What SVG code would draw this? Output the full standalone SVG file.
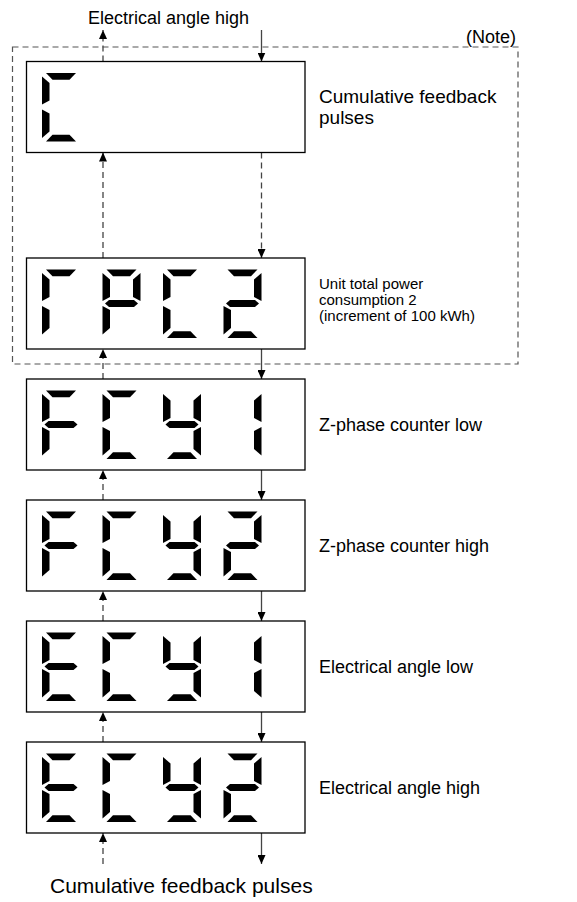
<svg xmlns="http://www.w3.org/2000/svg" width="577" height="902" viewBox="0 0 577 902">
<style>
.box{fill:#fff;stroke:#000;stroke-width:1.3}
.seg{fill:#000}
.lbl{font-family:"Liberation Sans",Arial,sans-serif;font-size:18px;fill:#000}
.big{font-size:19px}
.sm{font-family:"Liberation Sans",Arial,sans-serif;font-size:15px;fill:#000}
.solid{stroke:#444;stroke-width:1.3;fill:none}
.dash{stroke:#444;stroke-width:1.3;fill:none;stroke-dasharray:6 4}
.frame{fill:none;stroke:#555;stroke-width:1.2;stroke-dasharray:6 4}
</style>
<defs>
<marker id="ah" viewBox="0 0 9 8" refX="9" refY="4" markerWidth="9" markerHeight="8" markerUnits="userSpaceOnUse" orient="auto">
<path d="M0,0 L9,4 L0,8 Z" fill="#000"/>
</marker>
<path id="sa" d="M4,0 L34,0 L27.5,6.7 L10.5,6.7 Z"/>
<path id="sf" d="M0,3.5 L7.5,10 L7.5,27.5 L0,31.5 Z"/>
<path id="sb" d="M38,3.5 L30.5,10 L30.5,27.5 L38,31.5 Z"/>
<path id="sg" d="M2.5,34 L6.5,30.5 L31.5,30.5 L35.5,34 L31.5,37.5 L6.5,37.5 Z"/>
<path id="se" d="M0,36.5 L7.5,40.5 L7.5,58.5 L0,65 Z"/>
<path id="sc" d="M38,36.5 L30.5,40.5 L30.5,58.5 L38,65 Z"/>
<path id="sd" d="M10.5,61.8 L27.5,61.8 L34,68.5 L4,68.5 Z"/>
</defs>
<rect width="577" height="902" fill="#fff"/>

<g id="note-frame">
<rect class="frame" x="12.5" y="47" width="505.5" height="317"/>
<text class="lbl" x="516" y="43" text-anchor="end">(Note)</text>
</g>

<g id="connectors">
<path class="solid" d="M261.5,30 V61.5" marker-end="url(#ah)"/>
<path class="dash" d="M103,61.5 V30" marker-end="url(#ah)"/>
<path class="dash" d="M261.5,152.5 V258" marker-end="url(#ah)"/>
<path class="dash" d="M103,258 V152.5" marker-end="url(#ah)"/>
<path class="solid" d="M261.5,349 V379" marker-end="url(#ah)"/>
<path class="dash" d="M103,379 V349" marker-end="url(#ah)"/>
<path class="solid" d="M261.5,470 V500" marker-end="url(#ah)"/>
<path class="dash" d="M103,500 V470" marker-end="url(#ah)"/>
<path class="solid" d="M261.5,591 V621" marker-end="url(#ah)"/>
<path class="dash" d="M103,621 V591" marker-end="url(#ah)"/>
<path class="solid" d="M261.5,712 V742" marker-end="url(#ah)"/>
<path class="dash" d="M103,742 V712" marker-end="url(#ah)"/>
<path class="solid" d="M261.5,833 V864" marker-end="url(#ah)"/>
<path class="dash" d="M103,864 V833" marker-end="url(#ah)"/>
</g>

<g id="top-label"><text class="lbl" x="88" y="24">Electrical angle high</text></g>
<g id="bottom-label"><text class="lbl" x="50" y="893" style="font-size:21px">Cumulative feedback pulses</text></g>

<g id="node-cumulative">
<rect class="box" x="26.5" y="61.5" width="278.5" height="91"/>
<g class="seg" transform="translate(42,73)"><use href="#sa"/><use href="#sf"/><use href="#se"/><use href="#sd"/></g>
<text class="lbl big" x="319" y="103">Cumulative feedback</text>
<text class="lbl big" x="319" y="124">pulses</text>
</g>

<g id="node-rpc2">
<rect class="box" x="26.5" y="258" width="278.5" height="91"/>
<g class="seg" transform="translate(42,269.5)"><use href="#sa"/><use href="#sf"/><use href="#se"/></g>
<g class="seg" transform="translate(102.5,269.5)"><use href="#sa"/><use href="#sf"/><use href="#sb"/><use href="#sg"/><use href="#se"/></g>
<g class="seg" transform="translate(163,269.5)"><use href="#sa"/><use href="#sf"/><use href="#se"/><use href="#sd"/></g>
<g class="seg" transform="translate(223.5,269.5)"><use href="#sa"/><use href="#sb"/><use href="#sg"/><use href="#se"/><use href="#sd"/></g>
<text class="sm" x="319" y="289">Unit total power</text>
<text class="sm" x="319" y="305">consumption 2</text>
<text class="sm" x="319" y="321">(increment of 100 kWh)</text>
</g>

<g id="node-fcy1">
<rect class="box" x="26.5" y="379" width="278.5" height="91"/>
<g class="seg" transform="translate(42,390.5)"><use href="#sa"/><use href="#sf"/><use href="#sg"/><use href="#se"/></g>
<g class="seg" transform="translate(102.5,390.5)"><use href="#sa"/><use href="#sf"/><use href="#se"/><use href="#sd"/></g>
<g class="seg" transform="translate(163,390.5)"><use href="#sf"/><use href="#sb"/><use href="#sg"/><use href="#sc"/><use href="#sd"/></g>
<g class="seg" transform="translate(223.5,390.5)"><use href="#sb"/><use href="#sc"/></g>
<text class="lbl" x="319" y="431">Z-phase counter low</text>
</g>

<g id="node-fcy2">
<rect class="box" x="26.5" y="500" width="278.5" height="91"/>
<g class="seg" transform="translate(42,511.5)"><use href="#sa"/><use href="#sf"/><use href="#sg"/><use href="#se"/></g>
<g class="seg" transform="translate(102.5,511.5)"><use href="#sa"/><use href="#sf"/><use href="#se"/><use href="#sd"/></g>
<g class="seg" transform="translate(163,511.5)"><use href="#sf"/><use href="#sb"/><use href="#sg"/><use href="#sc"/><use href="#sd"/></g>
<g class="seg" transform="translate(223.5,511.5)"><use href="#sa"/><use href="#sb"/><use href="#sg"/><use href="#se"/><use href="#sd"/></g>
<text class="lbl" x="319" y="552">Z-phase counter high</text>
</g>

<g id="node-ecy1">
<rect class="box" x="26.5" y="621" width="278.5" height="91"/>
<g class="seg" transform="translate(42,632.5)"><use href="#sa"/><use href="#sf"/><use href="#sg"/><use href="#se"/><use href="#sd"/></g>
<g class="seg" transform="translate(102.5,632.5)"><use href="#sa"/><use href="#sf"/><use href="#se"/><use href="#sd"/></g>
<g class="seg" transform="translate(163,632.5)"><use href="#sf"/><use href="#sb"/><use href="#sg"/><use href="#sc"/><use href="#sd"/></g>
<g class="seg" transform="translate(223.5,632.5)"><use href="#sb"/><use href="#sc"/></g>
<text class="lbl" x="319" y="673">Electrical angle low</text>
</g>

<g id="node-ecy2">
<rect class="box" x="26.5" y="742" width="278.5" height="91"/>
<g class="seg" transform="translate(42,753.5)"><use href="#sa"/><use href="#sf"/><use href="#sg"/><use href="#se"/><use href="#sd"/></g>
<g class="seg" transform="translate(102.5,753.5)"><use href="#sa"/><use href="#sf"/><use href="#se"/><use href="#sd"/></g>
<g class="seg" transform="translate(163,753.5)"><use href="#sf"/><use href="#sb"/><use href="#sg"/><use href="#sc"/><use href="#sd"/></g>
<g class="seg" transform="translate(223.5,753.5)"><use href="#sa"/><use href="#sb"/><use href="#sg"/><use href="#se"/><use href="#sd"/></g>
<text class="lbl" x="319" y="794">Electrical angle high</text>
</g>
</svg>
